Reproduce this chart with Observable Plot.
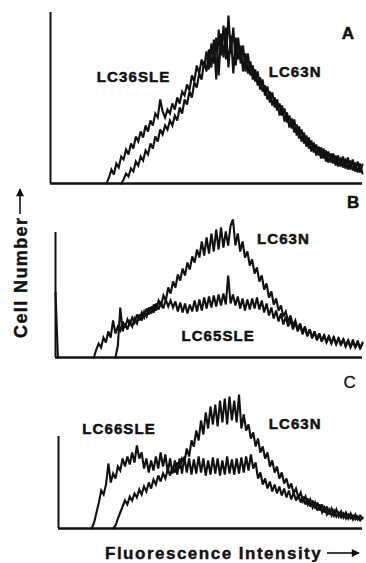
<!DOCTYPE html>
<html><head><meta charset="utf-8">
<script src="https://cdn.jsdelivr.net/npm/d3@7"></script>
<script src="https://cdn.jsdelivr.net/npm/@observablehq/plot@0.6"></script>
<style>
html,body{margin:0;padding:0;background:#fff;}
#fig{position:relative;width:366px;height:563px;overflow:hidden;background:#fff;}
#fig svg{position:absolute;left:0;}
</style></head><body><div id="fig"></div>
<script>
// Flow cytometry histograms: counts per channel (every 2nd channel).
const channelStep = 2;
const channelMax = 256;

// Panel A
const aSleStart = 46;
const aSle = [0,6,14,9,20,16,27,24,34,29,40,35,47,42,52,46,58,52,63,58,70,66,84,72,66,74,70,80,74,86,80,92,88,99,93,108,102,118,110,124,116,132,114,140,120,146,108,150,126,156,116,148,110,146,124,138,112,130,110,122,104,114,98,106,92,98,84,92,78,86,73,80,68,75,61,68,55,64,48,57,42,51,37,46,32,41,28,37,25,35,22,32,21,30,18,28,17,27,15,26,14,24,12,22,11,19];
const aNStart = 58;
const aN = [0,4,10,7,15,12,22,18,27,23,33,29,40,35,47,42,54,49,58,54,63,58,68,63,76,70,84,79,92,86,101,96,110,104,122,112,134,116,144,104,154,128,158,124,168,130,156,118,146,120,138,112,130,108,118,102,112,94,104,88,97,81,91,76,84,68,78,62,71,56,65,51,59,45,54,40,48,35,43,31,39,28,36,25,33,21,30,20,28,17,26,16,25,14,23,13,21,11,20,10];

// Panel B
const bFirstBin = [65,0];
const bSleStart = 32;
const bSle = [0,8,14,10,20,15,26,20,37,24,31,27,36,30,38,33,40,35,43,37,45,40,49,43,51,45,54,48,56,49,58,51,57,50,56,46,55,45,54,44,53,46,57,46,58,47,60,49,61,50,62,51,63,52,64,53,82,54,63,52,61,49,59,47,58,48,59,49,60,48,57,45,54,42,50,39,47,36,44,33,41,31,38,28,35,26,33,23,30,21,28,19,26,17,24,16,23,15,22,14,21,13,20,12,19,11,18,10,18,10,17,9,15];
const bNStart = 50;
const bN = [0,12,50,26,34,28,36,31,39,34,43,37,46,41,50,44,53,47,57,52,62,57,70,64,76,70,83,77,89,82,95,88,101,95,108,100,116,102,120,104,124,106,128,108,130,110,126,112,132,138,112,124,106,116,100,106,92,98,84,90,76,82,68,74,60,66,53,59,47,52,41,46,36,42,32,37,28,34,25,31,22,28,20,26,18,24,16,22,15,21,14,20,13,19,13,18,11,17,10,16,10,15,9,14];

// Panel C
const cSleStart = 28;
const cSle = [0,6,16,26,38,34,44,65,46,55,50,62,58,70,62,72,64,76,66,83,70,76,60,70,56,68,58,72,60,76,62,74,56,70,55,68,54,70,55,72,56,70,54,69,55,72,56,70,53,68,54,71,55,70,53,68,54,72,55,69,54,70,55,71,56,72,58,74,60,66,50,56,44,50,40,47,37,44,35,42,33,40,31,38,29,36,28,34,26,32,24,30,22,28,20,26,18,24,16,22,14,20,13,19,12,17,11,16,10,15,9,14,9,13,10];
const cNStart = 46;
const cN = [0,3,10,16,22,28,24,32,28,35,31,39,34,42,37,46,40,49,44,53,47,55,50,59,53,62,56,66,60,70,66,80,72,88,82,98,88,108,94,116,100,122,104,124,102,128,106,130,104,132,108,128,106,134,100,114,98,104,90,96,82,90,76,82,70,76,62,68,56,62,50,56,45,50,40,45,35,40,31,36,27,32,24,29,21,26,18,24,16,21,14,19,13,18,12,16,11,15,10,14,10,13,9,12,8,11];

// Labels
const panelLetters = ["A","B","C"];
const sleNames = ["LC36SLE","LC65SLE","LC66SLE"];
const normalName = "LC63N";
const xTitle = "Fluorescence Intensity";
const yTitle = "Cell Number";

function series(name, start, values) {
  return values.map((v, i) => ({series: name, ch: start + channelStep * i, v}))
               .filter(d => d.ch <= channelMax);
}

const INK = "#111";
const FONT = "'Liberation Sans', Arial, Helvetica, sans-serif";

const panels = [
  {top: 0, height: 185, left: 50, base: 183, axisH: 171,
   data: [...series("sle", aSleStart, aSle), ...series("n", aNStart, aN)],
   labels: [
     {t: sleNames[0], x: 38, y: 106, size: 15, w: "bold"},
     {t: normalName, x: 179, y: 111, size: 15, w: "bold"},
     {t: panelLetters[0], x: 239, y: 150, size: 17, w: "bold"}]},
  {top: 185, height: 180, left: 55, base: 172, axisH: 125,
   data: [...series("first", 0, bFirstBin), ...series("sle", bSleStart, bSle), ...series("n", bNStart, bN)],
   labels: [
     {t: normalName, x: 168, y: 118, size: 15, w: "bold"},
     {t: sleNames[1], x: 105, y: 21, size: 15, w: "bold"},
     {t: panelLetters[1], x: 243, y: 155, size: 17, w: "bold"}]},
  {top: 365, height: 198, left: 58, base: 163, axisH: 92,
   data: [...series("sle", cSleStart, cSle), ...series("n", cNStart, cN)],
   labels: [
     {t: sleNames[2], x: 20, y: 99, size: 15, w: "bold"},
     {t: normalName, x: 177, y: 104, size: 15, w: "bold"},
     {t: panelLetters[2], x: 240, y: 146, size: 17, w: "normal"}]}
];

const fig = document.getElementById("fig");
for (const p of panels) {
  const chart = Plot.plot({
    width: 366,
    height: p.height,
    x: {domain: [0, channelMax], range: [p.left, 362], axis: null},
    y: {domain: [0, p.axisH], range: [p.base, p.base - p.axisH], axis: null},
    style: {fontFamily: FONT, letterSpacing: "1.1px", background: "transparent", overflow: "visible"},
    marks: [
      Plot.ruleX([0], {x: d => d, y1: 0, y2: p.axisH, stroke: INK, strokeWidth: 2}),
      Plot.ruleY([0], {y: d => d, x1: 0, x2: channelMax, stroke: INK, strokeWidth: 2.4}),
      Plot.line(p.data, {x: "ch", y: "v", z: "series", stroke: INK, strokeWidth: 2.1, strokeLinejoin: "miter", strokeMiterlimit: 3}),
      ...p.labels.map(l => Plot.text([l.t], {x: l.x, y: l.y, text: d => d, textAnchor: "start",
        fontSize: l.size, fontWeight: l.w, fill: INK, stroke: INK, strokeWidth: l.w === "bold" ? 0.5 : 0.3}))
    ]
  });
  chart.style.top = p.top + "px";
  fig.appendChild(chart);
}

// Axis titles with arrows
const ov = d3.create("svg").attr("width", 366).attr("height", 563)
  .style("position", "absolute").style("left", "0px").style("top", "0px")
  .style("font-family", FONT).style("font-weight", "bold");
const defs = ov.append("defs");
defs.append("marker").attr("id", "ah").attr("viewBox", "0 0 10 10").attr("refX", 9).attr("refY", 5)
  .attr("markerWidth", 9).attr("markerHeight", 8).attr("markerUnits", "userSpaceOnUse").attr("orient", "auto")
  .append("path").attr("d", "M0,0L10,5L0,10Z").attr("fill", INK);
ov.append("text").attr("x", 105).attr("y", 559).attr("font-size", 17).attr("letter-spacing", "1.5px")
  .attr("fill", INK).attr("stroke", INK).attr("stroke-width", 0.4).text(xTitle);
ov.append("line").attr("x1", 327).attr("x2", 359).attr("y1", 553).attr("y2", 553)
  .attr("stroke", INK).attr("stroke-width", 1.6).attr("marker-end", "url(#ah)");
ov.append("text").attr("transform", "translate(27,338) rotate(-90)").attr("font-size", 18)
  .attr("letter-spacing", "1.4px").attr("fill", INK).attr("stroke", INK).attr("stroke-width", 0.4).text(yTitle);
ov.append("line").attr("x1", 20).attr("x2", 20).attr("y1", 214).attr("y2", 189)
  .attr("stroke", INK).attr("stroke-width", 1.6).attr("marker-end", "url(#ah)");
fig.appendChild(ov.node());
</script></body></html>
